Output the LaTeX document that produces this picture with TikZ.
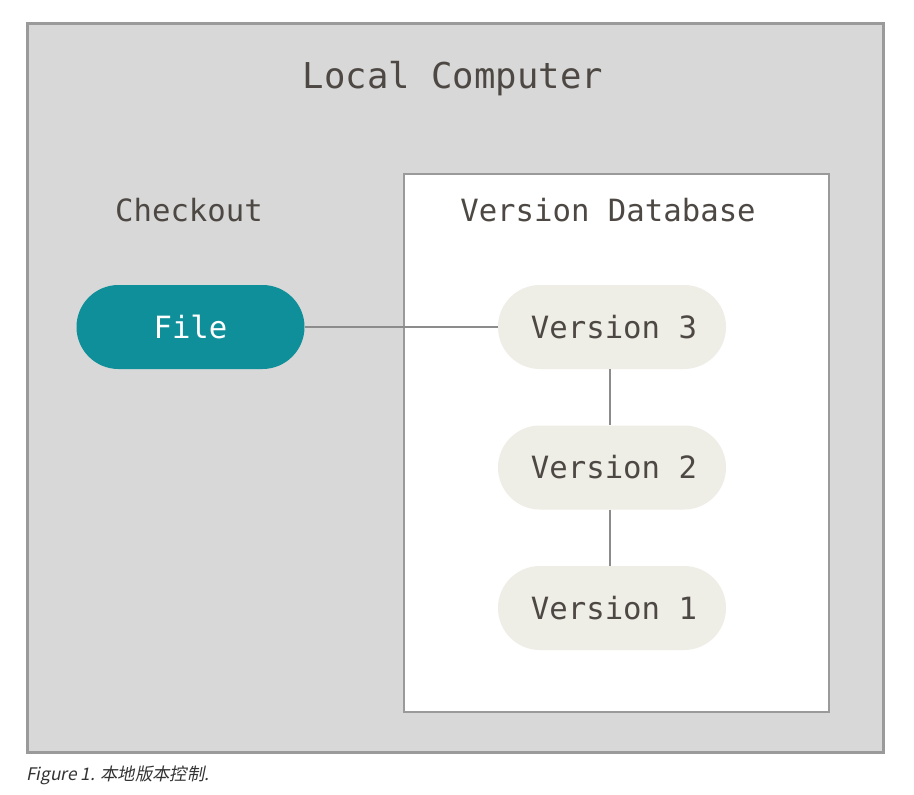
\documentclass[tikz,border=0pt]{standalone}
\usepackage{fontspec}
\usetikzlibrary{shapes.misc}
\setmonofont{DejaVu Sans Mono}
\newfontfamily\capfont[FakeSlant=0.2]{Noto Sans CJK SC}
\definecolor{outerfill}{HTML}{D8D8D8}
\definecolor{boxline}{HTML}{9A9A9A}
\definecolor{teal}{HTML}{0E8F99}
\definecolor{pillfill}{HTML}{EEEDE6}
\definecolor{txt}{HTML}{4D4843}
\definecolor{conn}{HTML}{8C8C8C}
\definecolor{captxt}{HTML}{333333}
\begin{document}
\begin{tikzpicture}[x=0.75pt,y=-0.75pt,
  lbl/.style={font=\ttfamily\fontsize{23}{27}\selectfont, text=txt},
  pill/.style={rounded rectangle, minimum width=228*0.75pt, minimum height=84*0.75pt, inner sep=0pt, font=\ttfamily\fontsize{23}{27}\selectfont},
  verpill/.style={pill, fill=pillfill, text=txt},
  filepill/.style={pill, fill=teal, text=white},
  link/.style={draw=conn, line width=1.5pt}]
\useasboundingbox (0,0) rectangle (914,795);
\node[draw=boxline, fill=outerfill, line width=2pt, minimum width=856*0.75pt, minimum height=729*0.75pt, inner sep=0pt, anchor=north west] (outer) at (26,22) {};
\node[draw=boxline, fill=white, line width=1.5pt, minimum width=425*0.75pt, minimum height=538*0.75pt, inner sep=0pt, anchor=north west] (inner) at (403,173) {};
\node[font=\ttfamily\fontsize{26.7}{30}\selectfont, text=txt] (title) at (453,79) {Local Computer};
\node[lbl] (checkout) at (189,210) {Checkout};
\node[lbl] (vdb) at (608,210) {Version Database};
\node[filepill] (file) at (190.5,327) {File};
\node[verpill] (v3) at (612,327) {\hspace{3pt}Version 3};
\node[verpill] (v2) at (612,467.5) {\hspace{3pt}Version 2};
\node[verpill] (v1) at (612,608) {\hspace{3pt}Version 1};
\draw[link] (file.east) -- (v3.west);
\draw[link] ([xshift=-1.5pt]v3.south) -- ([xshift=-1.5pt]v2.north);
\draw[link] ([xshift=-1.5pt]v2.south) -- ([xshift=-1.5pt]v1.north);
\node[anchor=base west, inner sep=0pt, font=\capfont\fontsize{13}{16}\selectfont, text=captxt] (cap) at (26,780) {Figure 1. 本地版本控制.};
\end{tikzpicture}
\end{document}
